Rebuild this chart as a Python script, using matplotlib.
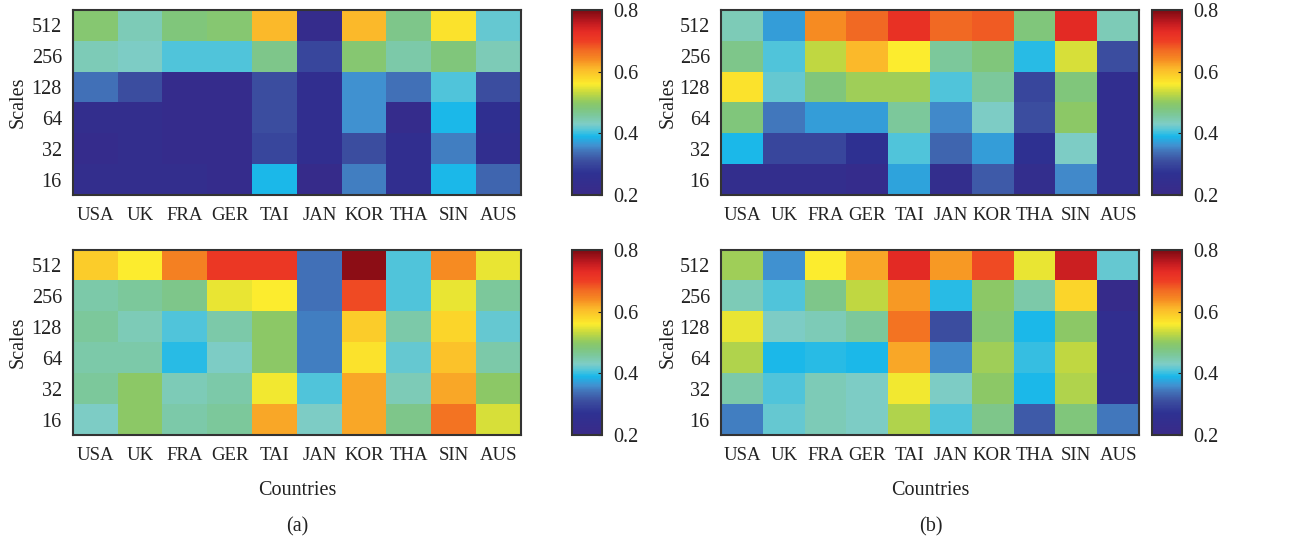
import numpy as np
import matplotlib
matplotlib.use("Agg")
import matplotlib.pyplot as plt
from matplotlib.colors import LinearSegmentedColormap, Normalize

countries = ["USA", "UK", "FRA", "GER", "TAI", "JAN", "KOR", "THA", "SIN", "AUS"]
scales = ["512", "256", "128", "64", "32", "16"]  # top to bottom

a_top = [
    [0.49, 0.44, 0.48, 0.49, 0.61, 0.23, 0.61, 0.47, 0.57, 0.42],
    [0.44, 0.43, 0.41, 0.41, 0.47, 0.30, 0.49, 0.45, 0.48, 0.44],
    [0.34, 0.31, 0.23, 0.23, 0.31, 0.25, 0.36, 0.34, 0.41, 0.31],
    [0.24, 0.24, 0.23, 0.23, 0.31, 0.25, 0.36, 0.23, 0.39, 0.26],
    [0.23, 0.24, 0.23, 0.23, 0.30, 0.25, 0.31, 0.25, 0.35, 0.25],
    [0.24, 0.24, 0.24, 0.23, 0.39, 0.22, 0.35, 0.25, 0.39, 0.33],
]
a_bottom = [
    [0.59, 0.56, 0.65, 0.71, 0.71, 0.34, 0.79, 0.41, 0.64, 0.55],
    [0.45, 0.46, 0.47, 0.55, 0.56, 0.34, 0.69, 0.41, 0.55, 0.46],
    [0.46, 0.44, 0.41, 0.45, 0.50, 0.35, 0.59, 0.45, 0.58, 0.42],
    [0.45, 0.45, 0.395, 0.43, 0.50, 0.35, 0.57, 0.42, 0.60, 0.45],
    [0.46, 0.50, 0.44, 0.45, 0.555, 0.41, 0.62, 0.44, 0.62, 0.50],
    [0.43, 0.50, 0.45, 0.46, 0.62, 0.43, 0.62, 0.47, 0.66, 0.54],
]
b_top = [
    [0.44, 0.37, 0.64, 0.67, 0.72, 0.67, 0.68, 0.48, 0.73, 0.44],
    [0.47, 0.41, 0.53, 0.61, 0.56, 0.46, 0.48, 0.395, 0.54, 0.31],
    [0.57, 0.42, 0.48, 0.51, 0.51, 0.41, 0.46, 0.30, 0.48, 0.25],
    [0.48, 0.345, 0.37, 0.37, 0.46, 0.355, 0.43, 0.31, 0.50, 0.25],
    [0.39, 0.30, 0.30, 0.27, 0.41, 0.33, 0.37, 0.27, 0.43, 0.25],
    [0.24, 0.24, 0.24, 0.23, 0.375, 0.24, 0.32, 0.24, 0.355, 0.25],
]
b_bottom = [
    [0.51, 0.36, 0.56, 0.62, 0.73, 0.63, 0.69, 0.55, 0.75, 0.42],
    [0.44, 0.41, 0.47, 0.53, 0.63, 0.395, 0.50, 0.45, 0.58, 0.22],
    [0.55, 0.43, 0.44, 0.46, 0.66, 0.31, 0.49, 0.39, 0.50, 0.25],
    [0.52, 0.39, 0.395, 0.39, 0.62, 0.355, 0.51, 0.40, 0.53, 0.25],
    [0.45, 0.41, 0.44, 0.43, 0.555, 0.43, 0.50, 0.39, 0.52, 0.255],
    [0.35, 0.42, 0.44, 0.43, 0.52, 0.41, 0.47, 0.32, 0.48, 0.345],
]
cbar_ticks = [0.2, 0.4, 0.6, 0.8]

vmin, vmax = 0.2, 0.8
anchors = [
    (0.20, "#3a2a88"), (0.27, "#2e3192"), (0.31, "#3c4fa0"), (0.34, "#4272b8"),
    (0.36, "#4191d0"), (0.39, "#1ab8ea"), (0.41, "#52c5da"), (0.43, "#7ecdc6"),
    (0.46, "#7cc89a"), (0.48, "#80c67c"), (0.50, "#8dc965"), (0.53, "#c2d841"),
    (0.56, "#fcec2e"), (0.58, "#fbd72a"), (0.61, "#fbb92a"), (0.64, "#f68b22"),
    (0.67, "#f26a23"), (0.70, "#ee3e24"), (0.73, "#e62c25"), (0.76, "#c01a20"),
    (0.80, "#7d0a12"),
]
cmap = LinearSegmentedColormap.from_list(
    "custom", [((v - vmin) / (vmax - vmin), c) for v, c in anchors], N=256)
norm = Normalize(vmin, vmax)

plt.rcParams["font.family"] = ["Liberation Serif", "DejaVu Serif"]
FS = 14.5
FSX = 13.5
plt.rcParams["font.size"] = FS

W, H = 1306, 544
fig = plt.figure(figsize=(W / 100, H / 100), dpi=100)

def rect(x0, y0, x1, y1):
    return [x0 / W, 1 - y1 / H, (x1 - x0) / W, (y1 - y0) / H]

panels = [
    (a_top, 73, 10, 521, 195, 572, 602, False, 28),
    (a_bottom, 73, 250, 521, 435, 572, 602, True, 28),
    (b_top, 721, 10, 1139, 195, 1152, 1182, False, 678),
    (b_bottom, 721, 250, 1139, 435, 1152, 1182, True, 678),
]
for data, x0, y0, x1, y1, cx0, cx1, bottom, ylx in panels:
    ax = fig.add_axes(rect(x0, y0, x1, y1))
    arr = np.array(data)
    im = ax.imshow(arr, cmap=cmap, norm=norm, aspect="auto", interpolation="nearest")
    ax.set_xticks(range(len(countries)))
    ax.set_xticklabels(countries)
    ax.set_yticks(range(len(scales)))
    ax.set_yticklabels(scales)
    ax.tick_params(length=0, labelsize=FS, colors="#222222")
    ax.tick_params(axis="y", pad=8)
    ax.tick_params(axis="x", pad=9, labelsize=FSX)
    ax.set_ylabel("Scales", fontsize=FS, color="#222222")
    ax.yaxis.set_label_coords((ylx - x0) / (x1 - x0), 0.5)
    for s in ax.spines.values():
        s.set_linewidth(1.5)
        s.set_color("#333333")
    if bottom:
        ax.set_xlabel("Countries", fontsize=FS, color="#222222", labelpad=12)
    cax = fig.add_axes(rect(cx0, y0, cx1, y1))
    cb = fig.colorbar(im, cax=cax, ticks=cbar_ticks)
    cb.ax.set_yticklabels([f"{t:.1f}" for t in cbar_ticks])
    cb.ax.tick_params(direction="in", length=3, width=0.8, labelsize=FS, colors="#222222", pad=8)
    cb.outline.set_linewidth(1.5)
    cb.outline.set_edgecolor("#333333")

fig.text(297 / W, 1 - 527 / H, "(a)", ha="center", va="center", fontsize=FS, color="#222222")
fig.text(931 / W, 1 - 527 / H, "(b)", ha="center", va="center", fontsize=FS, color="#222222")

fig.savefig("out.png", dpi=100)
